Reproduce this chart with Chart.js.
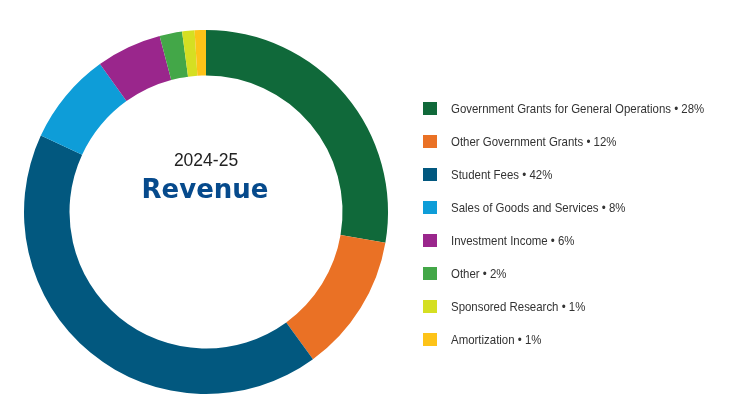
<!DOCTYPE html>
<html>
<head>
<meta charset="utf-8">
<script src="https://cdn.jsdelivr.net/npm/chart.js@4.4.1/dist/chart.umd.min.js"></script>
<style>
  html, body { margin: 0; padding: 0; background: #fff; }
  #wrap { position: relative; width: 735px; height: 415px; }
  #revenue { position: absolute; left: 0; top: 0; }
  #legend { position: absolute; left: 423px; top: 92px; font-family: "Liberation Sans", Arial, sans-serif; font-size: 13px; color: #333; }
  .row { height: 33px; display: flex; align-items: center; white-space: nowrap; }
  .box { width: 14px; height: 13px; margin-right: 14px; flex: none; }
  .txt { display: inline-block; transform: scaleX(0.88); transform-origin: left center; }
</style>
</head>
<body>
<div id="wrap">
  <canvas id="revenue" width="735" height="415"></canvas>
  <div id="legend"></div>
</div>
<script>
const categories = [
  "Government Grants for General Operations",
  "Other Government Grants",
  "Student Fees",
  "Sales of Goods and Services",
  "Investment Income",
  "Other",
  "Sponsored Research",
  "Amortization"
];
const shareValues = [27.7, 12.3, 41.9, 8.2, 5.8, 2.0, 1.1, 1.0];
const shareLabels = ["28%", "12%", "42%", "8%", "6%", "2%", "1%", "1%"];

let sliceColors = [
  "#10693a",
  "#ea7125",
  "#02587f",
  "#0e9dd8",
  "#9a268c",
  "#43a748",
  "#d5df22",
  "#fdc318"
];

// legend on the right
const legend = document.getElementById("legend");
categories.forEach((name, i) => {
  const row = document.createElement("div");
  row.className = "row";
  row.innerHTML = `<span class="box" style="background:${sliceColors[i]}"></span><span class="txt">${name} \u2022 ${shareLabels[i]}</span>`;
  legend.appendChild(row);
});

const centerText = {
  id: "centerText",
  afterDraw(chart) {
    const ctx = chart.ctx;
    const meta = chart.getDatasetMeta(0).data[0];
    const x = meta.x, y = meta.y;
    ctx.save();
    ctx.textAlign = "center";
    ctx.textBaseline = "alphabetic";
    ctx.fillStyle = "#222";
    ctx.font = "17.5px 'Liberation Sans', Arial, sans-serif";
    ctx.fillText("2024-25", x, y - 46);
    ctx.fillStyle = "#064a8c";
    ctx.font = "bold 26px 'DejaVu Sans', sans-serif";
    ctx.fillText("Revenue", x - 1, y - 14);
    ctx.restore();
  }
};

new Chart("revenue", {
  type: "doughnut",
  data: {
    labels: categories,
    datasets: [{
      backgroundColor: sliceColors,
      borderWidth: 0,
      data: shareValues
    }]
  },
  options: {
    responsive: false,
    animation: false,
    cutout: "75%",
    layout: {
      padding: { left: 24, top: 30, right: 347, bottom: 21 }
    },
    plugins: {
      legend: { display: false },
      tooltip: { enabled: false }
    }
  },
  plugins: [centerText]
});
</script>
</body>
</html>
